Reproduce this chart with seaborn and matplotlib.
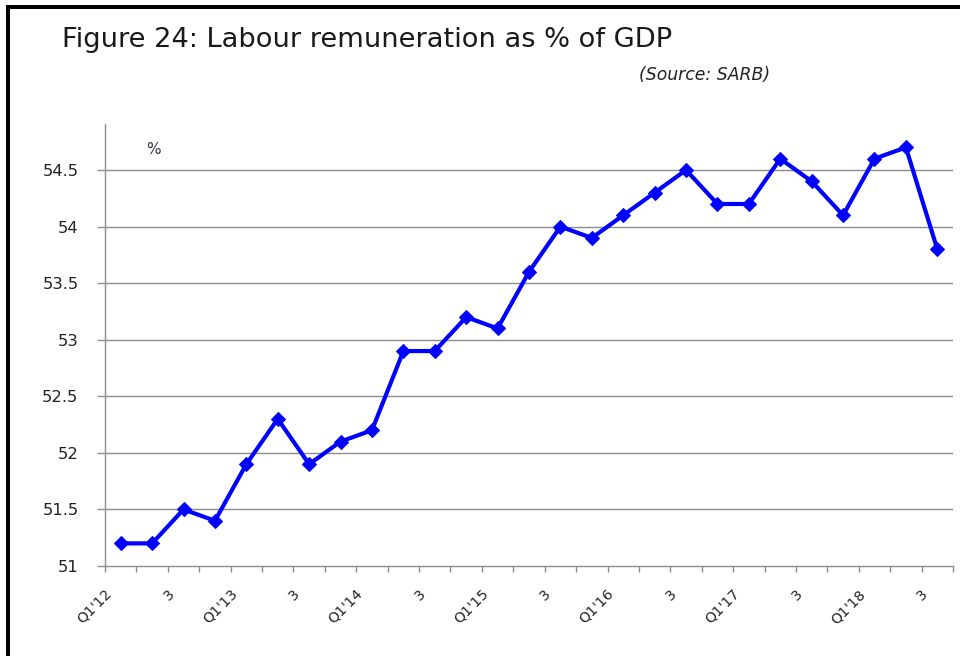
import matplotlib
matplotlib.use("Agg")
import matplotlib.pyplot as plt
import matplotlib.transforms as mtransforms
from matplotlib.patches import Rectangle
from matplotlib.ticker import FixedLocator
import numpy as np
import pandas as pd
import seaborn as sns

# Quarterly labour remuneration as share of GDP, Q1 2012 - Q3 2018
quarters = [
    "Q1'12", "Q2'12", "Q3'12", "Q4'12",
    "Q1'13", "Q2'13", "Q3'13", "Q4'13",
    "Q1'14", "Q2'14", "Q3'14", "Q4'14",
    "Q1'15", "Q2'15", "Q3'15", "Q4'15",
    "Q1'16", "Q2'16", "Q3'16", "Q4'16",
    "Q1'17", "Q2'17", "Q3'17", "Q4'17",
    "Q1'18", "Q2'18", "Q3'18",
]
share_pct = [
    51.2, 51.2, 51.5, 51.4,
    51.9, 52.3, 51.9, 52.1,
    52.2, 52.9, 52.9, 53.2,
    53.1, 53.6, 54.0, 53.9,
    54.1, 54.3, 54.5, 54.2,
    54.2, 54.6, 54.4, 54.1,
    54.6, 54.7, 53.8,
]
axis_labels = [
    "Q1'12", "3", "Q1'13", "3", "Q1'14", "3", "Q1'15",
    "3", "Q1'16", "3", "Q1'17", "3", "Q1'18", "3",
]
y_ticks = [51, 51.5, 52, 52.5, 53, 53.5, 54, 54.5]
y_tick_labels = ["51", "51.5", "52", "52.5", "53", "53.5", "54", "54.5"]

sns.set_theme(style="white")
plt.rcParams["font.family"] = ["DejaVu Sans"]

df = pd.DataFrame({"pos": np.arange(len(quarters)), "quarter": quarters, "value": share_pct})

fig = plt.figure(figsize=(9.6, 6.56), dpi=100)
fig.patch.set_facecolor("white")
ax = fig.add_axes([105 / 960, 1 - 566 / 656, (953 - 105) / 960, (566 - 124) / 656])

sns.lineplot(
    data=df, x="pos", y="value", ax=ax,
    color="#0000FF", linewidth=3.0,
    marker="D", markersize=7.5, markeredgecolor="#0000FF", markerfacecolor="#0000FF",
    zorder=3,
)

grid_col = "#8C8C8C"
ax.set_xlim(-0.5, len(quarters) - 0.5)
ax.set_ylim(51, 54.907)

for s in ["top", "right"]:
    ax.spines[s].set_visible(False)
for s in ["left", "bottom"]:
    ax.spines[s].set_color(grid_col)
    ax.spines[s].set_linewidth(1.0)

ax.set_yticks(y_ticks)
ax.set_yticklabels(y_tick_labels)
for yv in y_ticks[1:]:
    ax.axhline(yv, color=grid_col, linewidth=1.0, zorder=1)

ax.tick_params(axis="y", direction="out", length=6, width=1.0, color=grid_col,
               pad=13, labelsize=11.8, labelcolor="#222222", left=True)

# category labels every second quarter, boundary tick marks between quarters
label_pos = np.arange(0, len(quarters), 2)
ax.set_xticks(label_pos)
ax.set_xticklabels(axis_labels, rotation=45, ha="right", va="center",
                   rotation_mode="anchor", fontsize=10.3, color="#222222")
ax.xaxis.set_minor_locator(FixedLocator(np.arange(-0.5, len(quarters), 1.0)))
ax.tick_params(axis="x", which="major", length=0, pad=18.5, bottom=True)
ax.tick_params(axis="x", which="minor", direction="out", length=4, width=1.0,
               color=grid_col, bottom=True)
shift = mtransforms.ScaledTranslation(-11.5 / 100, 0, fig.dpi_scale_trans)
for lbl in ax.get_xticklabels():
    lbl.set_transform(lbl.get_transform() + shift)

ax.set_xlabel("")
ax.set_ylabel("")
ax.grid(False)

fig.text(146 / 960, 1 - 150 / 656, "%", fontsize=11,
         color="#333344", ha="left", va="center")

fig.text(62 / 960, 1 - 47 / 656, "Figure 24: Labour remuneration as % of GDP",
         fontsize=19.6, color="#1a1a1a", ha="left", va="baseline")
fig.text(770 / 960, 1 - 75 / 656, "(Source: SARB)", fontsize=12.4,
         style="italic", color="#222222", ha="right", va="center")

# frame lines along the top and left edges
fig.add_artist(Rectangle((6 / 960, 1 - 9 / 656), 1 - 6 / 960, 4 / 656,
                         transform=fig.transFigure, facecolor="black",
                         edgecolor="none"))
fig.add_artist(Rectangle((6 / 960, 0), 4 / 960, 1 - 5 / 656,
                         transform=fig.transFigure, facecolor="black",
                         edgecolor="none"))

fig.savefig("out.png", dpi=100, facecolor="white")
